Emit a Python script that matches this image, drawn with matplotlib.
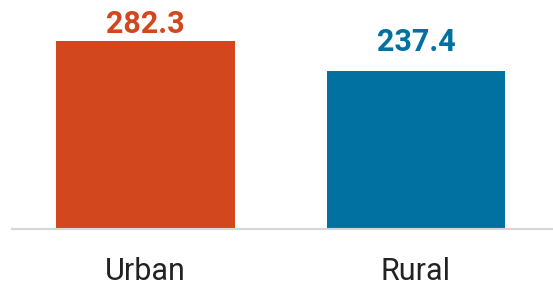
import matplotlib
matplotlib.use("Agg")
import matplotlib.pyplot as plt

categories = ["Urban", "Rural"]
values = [282.3, 237.4]
colors = ["#D3471F", "#0071A1"]

# gap between bar top and value label, in points
label_gaps = [5.8, 14.4]

fig = plt.figure(figsize=(5.53, 2.82), dpi=100)
ax = fig.add_axes([12 / 553, 53 / 282, 541 / 553, 229 / 282])

x = list(range(len(categories)))
ax.bar(x, values, width=0.66, color=colors)

for xi, v, c, g in zip(x, values, colors, label_gaps):
    ax.annotate(f"{v:.1f}", (xi, v), xytext=(0, g), textcoords="offset points",
                ha="center", va="baseline", color=c, fontsize=22,
                fontweight="bold", family="Roboto")

# category labels under the baseline
for xi, cat in zip(x, categories):
    ax.text(xi, -51 / 229, cat, transform=ax.get_xaxis_transform(),
            ha="center", va="baseline", fontsize=22, family="Roboto",
            color="#222222")

ax.set_xlim(-0.4935, 1.5065)
ax.set_ylim(0, 229 / 0.667)
ax.set_xticks([])
ax.set_yticks([])
for s in ["top", "left", "right"]:
    ax.spines[s].set_visible(False)
ax.spines["bottom"].set_color("#d6d6d6")
ax.spines["bottom"].set_linewidth(1.5)

fig.savefig("out.png", dpi=100)
